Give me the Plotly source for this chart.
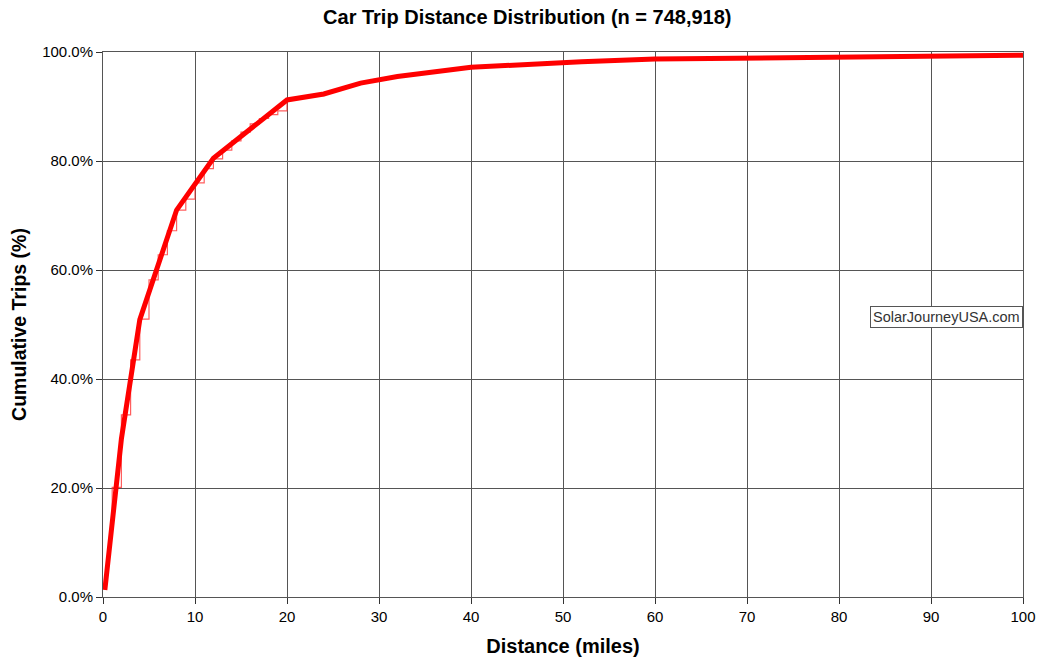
import plotly.graph_objects as go

# smoothed cumulative curve (miles, % of trips)
curve_miles = [0.2, 2, 4, 8, 12, 20, 24, 28, 32, 40, 52, 60, 100]
curve_pct = [1.3, 29.0, 50.9, 71.0, 80.5, 91.2, 92.3, 94.3, 95.5, 97.2, 98.2, 98.7, 99.4]

# step (per-mile) cumulative values
step_miles = [1, 1, 2, 3, 4, 5, 6, 7, 8, 9, 10, 11, 12, 13, 14, 15, 16, 17,
              18, 19, 20, 21, 22, 23, 24]
step_pct = [14.0, 20.1, 33.4, 43.5, 51.0, 58.2, 62.8, 67.2, 71.0, 73.0, 76.0,
            78.6, 80.4, 82.0, 83.7, 85.3, 86.8, 87.8, 88.5, 89.2, 91.2,
            91.5, 91.8, 92.0, 92.3]

x_ticks = list(range(0, 101, 10))
y_ticks = list(range(0, 101, 20))

FONT = "Liberation Sans, Arial, sans-serif"

fig = go.Figure()

fig.add_trace(go.Scatter(
    x=step_miles, y=step_pct, mode="lines",
    line=dict(color="rgba(255,40,40,0.75)", width=1.2, shape="hv"),
    hoverinfo="skip",
))
fig.add_trace(go.Scatter(
    x=curve_miles, y=curve_pct, mode="lines",
    line=dict(color="#ff0000", width=5),
))

fig.update_xaxes(
    range=[0, 100], tickvals=x_ticks, automargin=False,
    showgrid=True, gridcolor="#555555", gridwidth=1,
    zeroline=False, showline=True, linecolor="#555555", linewidth=1, mirror=True,
    ticks="outside", ticklen=6, tickcolor="#333333",
    tickfont=dict(family=FONT, size=15, color="black"),
    title=dict(text="<b>Distance (miles)</b>", standoff=14,
               font=dict(family=FONT, size=20, color="black")),
)
fig.update_yaxes(
    range=[0, 100], tickvals=y_ticks, automargin=False,
    ticktext=[f"{v:.1f}%" for v in y_ticks],
    showgrid=True, gridcolor="#555555", gridwidth=1,
    zeroline=False, showline=True, linecolor="#555555", linewidth=1, mirror=True,
    ticks="outside", ticklen=6, tickcolor="#333333",
    tickfont=dict(family=FONT, size=15, color="black"),
    title=dict(text="<b>Cumulative Trips (%)</b>", standoff=10,
               font=dict(family=FONT, size=19.5, color="black")),
)

fig.add_annotation(
    x=100, y=51.4, xref="x", yref="y", xanchor="right", yanchor="middle",
    text="SolarJourneyUSA.com", showarrow=False,
    font=dict(family=FONT, size=14.5, color="#333333"),
    bgcolor="white", bordercolor="#555555", borderwidth=1, borderpad=2,
)

fig.update_layout(
    width=1038, height=657,
    title=dict(text="<b>Car Trip Distance Distribution (n = 748,918)</b>",
               x=0.508, xanchor="center", y=1 - 17 / 657, yanchor="middle",
               font=dict(family=FONT, size=20, color="black")),
    plot_bgcolor="white", paper_bgcolor="white",
    showlegend=False,
    margin=dict(l=103, r=15, t=52, b=60),
)

# drop the default page margin so the figure fills the window exactly
fig.write_html("out.html", config={"displayModeBar": False},
               post_script="document.body.style.margin='0';")
